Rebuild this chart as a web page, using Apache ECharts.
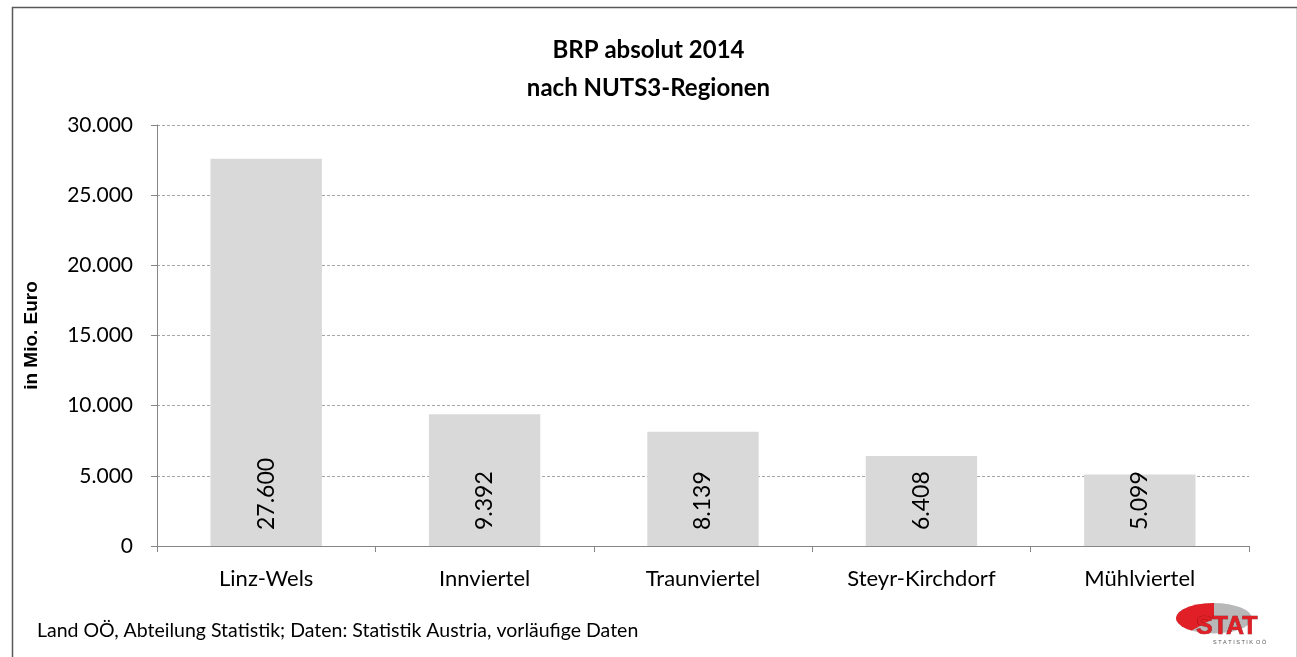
<!DOCTYPE html>
<html>
<head>
<meta charset="utf-8">
<script src="https://cdn.jsdelivr.net/npm/echarts@6/dist/echarts.min.js"></script>
<style>
  html, body { margin: 0; padding: 0; background: #fff; }
  #chart { width: 1297px; height: 657px; }
</style>
</head>
<body>
<div id="chart"></div>
<script>
// Regionen und BRP-Werte (Mio. Euro)
const regions = ["Linz-Wels", "Innviertel", "Traunviertel", "Steyr-Kirchdorf", "Mühlviertel"];
const brpValues = [27600, 9392, 8139, 6408, 5099];
const titleLines = ["BRP absolut 2014", "nach NUTS3-Regionen"];
const yAxisName = "in Mio. Euro";
const sourceText = "Land OÖ, Abteilung Statistik; Daten: Statistik Austria, vorläufige Daten";

const font = "Lato, 'Open Sans', sans-serif";

function fmt(v) {
  return v.toString().replace(/\B(?=(\d{3})+(?!\d))/g, ".");
}

let chart = echarts.init(document.getElementById("chart"));
chart.setOption({
  animation: false,
  textStyle: { fontFamily: font },
  title: {
    text: titleLines.join("\n"),
    left: "center",
    top: 26,
    textStyle: { fontSize: 24, fontWeight: "bold", color: "#000", lineHeight: 38, fontFamily: font }
  },
  grid: { left: 157, right: 48, top: 125, bottom: 111 },
  xAxis: {
    type: "category",
    data: regions,
    axisLine: { lineStyle: { color: "#868686", width: 1 } },
    axisTick: { show: true, length: 6, lineStyle: { color: "#868686" } },
    axisLabel: { fontSize: 22, color: "#000", margin: 22 }
  },
  yAxis: {
    type: "value",
    min: 0,
    max: 30000,
    interval: 5000,
    name: yAxisName,
    nameLocation: "middle",
    nameGap: 116,
    nameTextStyle: { fontSize: 19, fontWeight: "bold", color: "#000", fontFamily: "'Liberation Sans', Arial, sans-serif" },
    axisLine: { show: true, lineStyle: { color: "#868686" } },
    axisTick: { show: true, length: 6, lineStyle: { color: "#868686" } },
    axisLabel: { fontSize: 21, color: "#000", margin: 24, formatter: v => fmt(v) },
    splitLine: { lineStyle: { color: "#a6a6a6", type: [3, 2] } }
  },
  series: [
    {
      type: "bar",
      data: brpValues,
      barWidth: "51%",
      itemStyle: { color: "#d9d9d9" },
      label: {
        show: true,
        position: "insideBottom",
        rotate: 90,
        align: "left",
        verticalAlign: "middle",
        distance: 16,
        fontSize: 23,
        color: "#000",
        formatter: p => fmt(p.value)
      }
    }
  ],
  graphic: [
    {
      type: "rect",
      left: 10,
      top: 5,
      shape: { width: 1285, height: 660 },
      style: { fill: "none", stroke: "#595959", lineWidth: 1.5 },
      silent: true
    },
    {
      type: "text",
      left: 37,
      top: 621,
      style: { text: sourceText, font: "19.5px " + font, fill: "#000" }
    },
    // Logo STAT
    {
      type: "group",
      left: 1176,
      top: 603,
      children: [
        { type: "sector", shape: { cx: 38, cy: 16, r: 38, r0: 0, startAngle: 0, endAngle: Math.PI * 2 },
          scaleY: 0.4, originX: 38, originY: 16, style: { fill: "#b8b8b8" } },
        { type: "sector", shape: { cx: 38, cy: 16, r: 38, r0: 0, startAngle: Math.PI * 0.7, endAngle: Math.PI * 1.5 },
          scaleY: 0.4, originX: 38, originY: 16, z2: 1, style: { fill: "#e01f26" } },
        { type: "text", x: 20, y: 12, z2: 3,
          style: { text: "STAT", font: "bold 25px 'Liberation Sans', Arial, sans-serif", fill: "#e01f26",
                   stroke: "#7a1014", lineWidth: 0.6 } },
        { type: "text", x: 37, y: 37, z2: 3,
          style: { text: "S T A T I S T I K  O Ö", font: "5.5px 'Liberation Sans', Arial, sans-serif", fill: "#555" } }
      ]
    }
  ]
});
</script>
</body>
</html>
